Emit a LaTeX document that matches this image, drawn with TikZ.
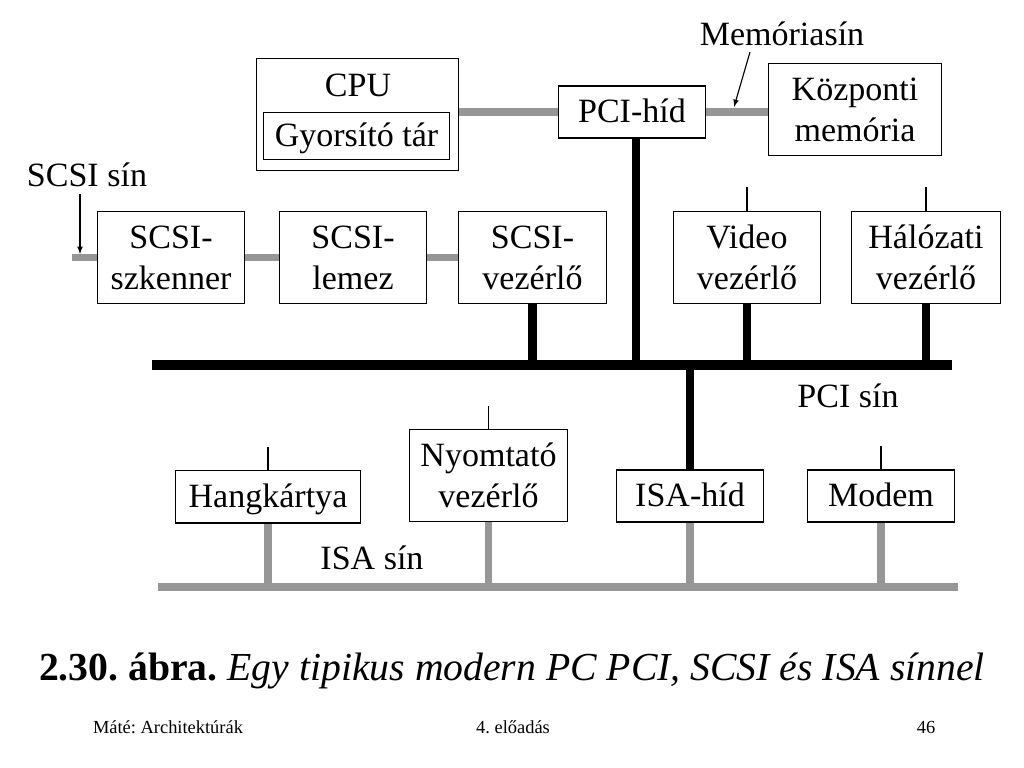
\documentclass[tikz,border=0pt]{standalone}
\usepackage{fontspec}
\setmainfont{Liberation Serif}
\usetikzlibrary{positioning}
\definecolor{busgray}{RGB}{150,150,150}

\begin{document}
\frenchspacing
\begin{tikzpicture}[x=0.0248cm,y=-0.0248cm,
  every node/.style={font=\fontsize{24}{29}\selectfont, inner sep=0pt, align=center},
  box/.style={draw, line width=0.8pt, fill=white},
  oneline/.style={text height=18.5pt, text depth=3pt},
  graybus/.style={busgray, line width=5.6pt},
  pcibus/.style={black, line width=7pt},
  pcilink/.style={black, line width=6.2pt},
  stub/.style={black, line width=0.8pt},
  pointer/.style={black, line width=0.8pt, -latex}]
  \useasboundingbox (0,0) rectangle (1024,768);
  % upper part
  \node[box, minimum width=142.7pt, minimum height=79.5pt] (cpu) at (357.5,114.5) {};
  \node[oneline] (cputext) at (358,86) {CPU};
  \node[box, oneline, minimum width=131.5pt, minimum height=33.7pt] (cache) at (356.5,136) {Gyorsító tár};
  \node[box, oneline, minimum width=104pt, minimum height=36.6pt] (pcihid) at (632,112) {PCI-híd};
  \node[box, minimum width=122.3pt, minimum height=65.4pt] (mem) at (855,109.5) {Központi\\memória};
  \node[oneline] (memsin) at (782,35) {Memóriasín};
  \draw[graybus] (cpu.east |- pcihid.west) -- (pcihid.west);
  \draw[graybus] (pcihid.east) -- (mem.west |- pcihid.east);
  \coordinate (memarrow) at (734,107);
  \draw[pointer] (750,52) -- (memarrow);
  % SCSI
  \node[box, minimum width=104pt, minimum height=65.4pt] (scanner) at (171,257.5) {SCSI-\\szkenner};
  \node[box, minimum width=104pt, minimum height=65.4pt] (disk) at (353,257.5) {SCSI-\\lemez};
  \node[box, minimum width=104pt, minimum height=65.4pt] (scsivez) at (532.5,257.5) {SCSI-\\vezérlő};
  \node[oneline] (scsisin) at (87,176) {SCSI sín};
  \coordinate (scsi-l) at (72,257.5);
  \draw[graybus] (scsi-l) -- (scanner.west);
  \draw[graybus] (scanner.east) -- (disk.west);
  \draw[graybus] (disk.east) -- (scsivez.west);
  \draw[pointer] (80,194) -- (80,254);
  % PCI bus
  \node[box, minimum width=104pt, minimum height=65.4pt] (video) at (747,257.5) {Video\\vezérlő};
  \node[box, minimum width=105.5pt, minimum height=65.4pt] (halo) at (926,257.5) {Hálózati\\vezérlő};
  \coordinate (pci-l) at (152,365);
  \coordinate (pci-r) at (952,365);
  \draw[pcibus] (pci-l) -- (pci-r);
  \node[oneline] (pcisin) at (848,397) {PCI sín};
  \draw[pcilink] (pcihid.south -| 636,0) -- (636,365);
  \draw[pcilink] (scsivez.south) -- (scsivez.south |- pci-l);
  \draw[pcilink] (video.south) -- (video.south |- pci-l);
  \draw[pcilink] (halo.south) -- (halo.south |- pci-l);
  \draw[stub] (video.north) -- ++(0,-24);
  \draw[stub] (halo.north) -- ++(0,-24);
  % ISA
  \node[box, oneline, minimum width=130.8pt, minimum height=37.3pt] (sound) at (268,496.5) {Hangkártya};
  \node[box, minimum width=111.8pt, minimum height=65.4pt] (printer) at (488.5,475.5) {Nyomtató\\vezérlő};
  \node[box, oneline, minimum width=104pt, minimum height=36.6pt] (isahid) at (690,496) {ISA-híd};
  \node[box, oneline, minimum width=104pt, minimum height=36.6pt] (modem) at (881,496) {Modem};
  \draw[pcilink] (isahid.north |- pci-l) -- (isahid.north);
  \coordinate (isa-l) at (158,587);
  \coordinate (isa-r) at (958,587);
  \draw[graybus] (isa-l) -- (isa-r);
  \node[oneline] (isasin) at (372,559) {ISA sín};
  \foreach \dev in {sound,printer,isahid,modem}
    \draw[graybus] (\dev.south) -- (\dev.south |- isa-l);
  \draw[stub] (sound.north) -- ++(0,-23);
  \draw[stub] (printer.north) -- ++(0,-23);
  \draw[stub] (modem.north) -- ++(0,-23);
  % caption and footer
  \node[font=\fontsize{28}{32}\selectfont] (caption) at (512,671) {\textbf{2.30. ábra.} \textit{Egy tipikus modern PC PCI, SCSI és ISA sínnel}};
  \node[font=\fontsize{13}{15}\selectfont] (author) at (168,727) {Máté: Architektúrák};
  \node[font=\fontsize{13}{15}\selectfont] (lecture) at (513,727) {4. előadás};
  \node[font=\fontsize{13}{15}\selectfont] (page) at (926,727) {46};
\end{tikzpicture}
\end{document}
